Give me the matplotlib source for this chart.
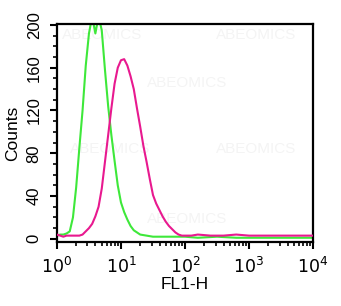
import matplotlib
matplotlib.use('Agg')
import matplotlib.pyplot as plt
from matplotlib.ticker import MultipleLocator, LogLocator, NullFormatter
import numpy as np

plt.rcParams['font.family'] = ['Liberation Sans', 'DejaVu Sans']

# log10(FL1-H) bin positions and counts
green_log = [0.00, 0.05, 0.10, 0.15, 0.20, 0.25, 0.30, 0.35, 0.40, 0.45,
             0.50, 0.55, 0.60, 0.65, 0.70, 0.75, 0.80, 0.85, 0.90, 0.95,
             1.00, 1.05, 1.10, 1.15, 1.20, 1.25, 1.30, 1.40, 1.50, 1.60,
             1.80, 2.00, 2.20, 2.50, 2.80, 3.20, 3.60, 4.00]
green_counts = [3, 4, 4, 5, 7, 20, 48, 85, 120, 162,
                192, 208, 192, 208, 195, 158, 124, 97, 73, 50,
                34, 25, 18, 12, 8, 6, 4, 3, 2, 2,
                2, 2, 1, 2, 1, 1, 1, 1]

pink_log = [0.00, 0.05, 0.10, 0.15, 0.20, 0.25, 0.30, 0.35, 0.40, 0.45,
            0.50, 0.55, 0.60, 0.65, 0.70, 0.75, 0.80, 0.85, 0.90, 0.95,
            1.00, 1.05, 1.10, 1.15, 1.20, 1.25, 1.30, 1.35, 1.40, 1.45,
            1.50, 1.55, 1.60, 1.65, 1.70, 1.75, 1.80, 1.85, 1.90, 1.95,
            2.00, 2.10, 2.20, 2.40, 2.60, 2.80, 3.00, 3.30, 3.60, 4.00]
pink_counts = [4, 3, 2, 3, 3, 3, 3, 3, 4, 7,
               10, 14, 21, 30, 47, 72, 97, 122, 145, 160,
               167, 168, 162, 152, 140, 122, 105, 87, 72, 56,
               41, 33, 27, 21, 16, 12, 9, 6, 4, 3,
               3, 3, 4, 3, 3, 4, 3, 3, 3, 3]

x_ticks = [1, 10, 100, 1000, 10000]
x_labels = [r'$10^0$', r'$10^1$', r'$10^2$', r'$10^3$', r'$10^4$']
y_ticks = [0, 40, 80, 120, 160, 200]

fig = plt.figure(figsize=(3.41, 3.06), dpi=100)
ax = fig.add_axes([0.167, 0.209, 0.751, 0.713])

# faint watermark
for (wx, wy) in [(0.02, 0.98), (0.62, 0.98), (0.35, 0.76), (0.05, 0.46),
                 (0.62, 0.46), (0.35, 0.14)]:
    ax.text(wx, wy, 'ABEOMICS', transform=ax.transAxes, fontsize=11,
            color='#f4f4f4', va='top', ha='left', zorder=0)

ax.plot(10 ** np.array(green_log), green_counts, color='#3ee83a', lw=1.5,
        zorder=2)
ax.plot(10 ** np.array(pink_log), pink_counts, color='#e8198f', lw=1.5,
        zorder=3)

ax.set_xscale('log')
ax.set_xlim(1, 1e4)
ax.set_ylim(-3, 201)
ax.set_xticks(x_ticks)
ax.set_xticklabels(x_labels, fontsize=12.5)
ax.xaxis.set_minor_locator(LogLocator(base=10, subs=np.arange(2, 10)))
ax.xaxis.set_minor_formatter(NullFormatter())
ax.set_yticks(y_ticks)
ax.set_yticklabels([str(v) for v in y_ticks], fontsize=12, rotation=90,
                   va='center')
ax.yaxis.set_minor_locator(MultipleLocator(10))

ax.tick_params(which='major', direction='out', length=5, width=1.5)
ax.tick_params(which='minor', direction='out', length=3, width=1.2)
ax.tick_params(axis='x', which='major', pad=5)
ax.tick_params(axis='y', which='major', pad=6)
for s in ax.spines.values():
    s.set_linewidth(1.6)

ax.set_xlabel('FL1-H', fontsize=12.5, labelpad=1)
ax.set_ylabel('Counts', fontsize=12.5, labelpad=5)

fig.savefig('out.png', dpi=100)
